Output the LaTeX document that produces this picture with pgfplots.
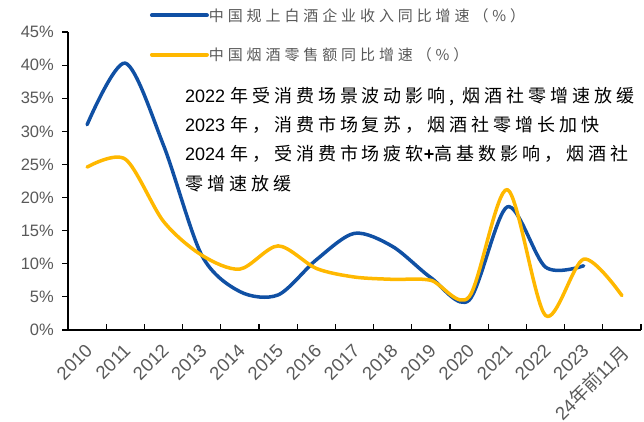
\documentclass[border=0pt]{standalone}
\usepackage{fontspec}
\setmainfont{Liberation Sans}
\newfontfamily\cjk{Noto Sans CJK SC}
\newfontfamily\cjkann{Noto Sans CJK SC}[LetterSpace=22]
\newfontfamily\cjkleg{Noto Sans CJK SC}[LetterSpace=26]
\usepackage{pgfplots}
\pgfplotsset{compat=1.18}
\definecolor{cblue}{RGB}{16,80,164}
\definecolor{cyel}{RGB}{255,184,0}
\definecolor{tgray}{RGB}{89,89,89}

\pgfplotstableread{
x y
0 31.0
1 40.3
2 27.9
3 11.3
4 5.8
5 5.3
6 10.6
7 14.6
8 12.6
9 7.9
10 4.5
11 18.6
12 9.5
13 9.7
}\baijiu

\pgfplotstableread{
x y
0 24.6
1 25.8
2 16.4
3 11.3
4 9.2
5 12.7
6 9.3
7 8.0
8 7.65
9 7.5
10 5.0
11 21.2
12 2.2
13 10.7
14 5.2
}\yanjiu

\begin{document}
\begin{tikzpicture}
\useasboundingbox (-68pt,-91pt) rectangle (576pt,330pt);
\begin{axis}[
  at={(0,0)}, anchor=south west,
  scale only axis, width=573pt, height=298pt,
  xmin=-0.5, xmax=14.5, ymin=0, ymax=45,
  axis x line*=bottom, axis y line*=left,
  axis line style={line width=1.5pt, black},
  tick align=outside,
  major tick length=6pt,
  every tick/.style={black, line width=1.2pt},
  xtick={-0.5,0.5,...,14.5},
  xticklabels={},
  xtick style={yshift=6pt},
  extra x ticks={0,1,...,14},
  extra x tick labels={2010,2011,2012,2013,2014,2015,2016,2017,2018,2019,2020,2021,2022,2023,{24{\cjk 年前}11{\cjk 月}}},
  extra x tick style={major tick length=0pt, tick style={draw=none},
    xticklabel style={rotate=45, anchor=north east, inner sep=0pt, font=\fontsize{18.5}{20}\selectfont, text=tgray, xshift=-11pt, yshift=-7pt}},
  ytick={0,5,...,45},
  yticklabel={\pgfmathprintnumber{\tick}\%},
  yticklabel style={font=\fontsize{16.5}{18}\selectfont, text=tgray, inner sep=0pt, xshift=-8pt},
  /pgf/number format/assume math mode=true,
  clip=false,
  legend cell align=left,
  legend image code/.code={\draw[#1, line width=4pt, line cap=round] (0pt,0pt) -- (55pt,0pt);},
  legend style={at={(0.143,1.08)}, anchor=north west, draw=none, fill=none, inner sep=0pt, outer sep=0pt,
    nodes={inner sep=0pt}, font=\fontsize{15}{16}\selectfont, text=tgray, row sep=25pt,
    /tikz/every even column/.append style={column sep=7pt}},
]
\addplot[color=cblue, line width=3.5pt, smooth, line cap=round, line join=round] table[x=x,y=y] {\baijiu};
\addlegendentry{\cjkleg 中国规上白酒企业收入同比增速（\%）}
\addplot[color=cyel, line width=3.5pt, smooth, line cap=round, line join=round] table[x=x,y=y] {\yanjiu};
\addlegendentry{\cjkleg 中国烟酒零售额同比增速（\%）}
\end{axis}
\begin{scope}[every node/.style={anchor=base west, inner sep=0pt, font=\fontsize{18}{20}\selectfont}]
\node at (117pt,228pt) {2022 {\cjkann 年受消费场景波动影响, 烟酒社零增速放缓}};
\node at (117pt,199pt) {2023 {\cjkann 年，消费市场复苏，烟酒社零增长加快}};
\node at (117pt,170pt) {2024 {\cjkann 年，受消费市场疲软}{\bfseries +}{\cjkann 高基数影响，烟酒社}};
\node at (117pt,140pt) {{\cjkann 零增速放缓}};
\end{scope}
\end{tikzpicture}
\end{document}
